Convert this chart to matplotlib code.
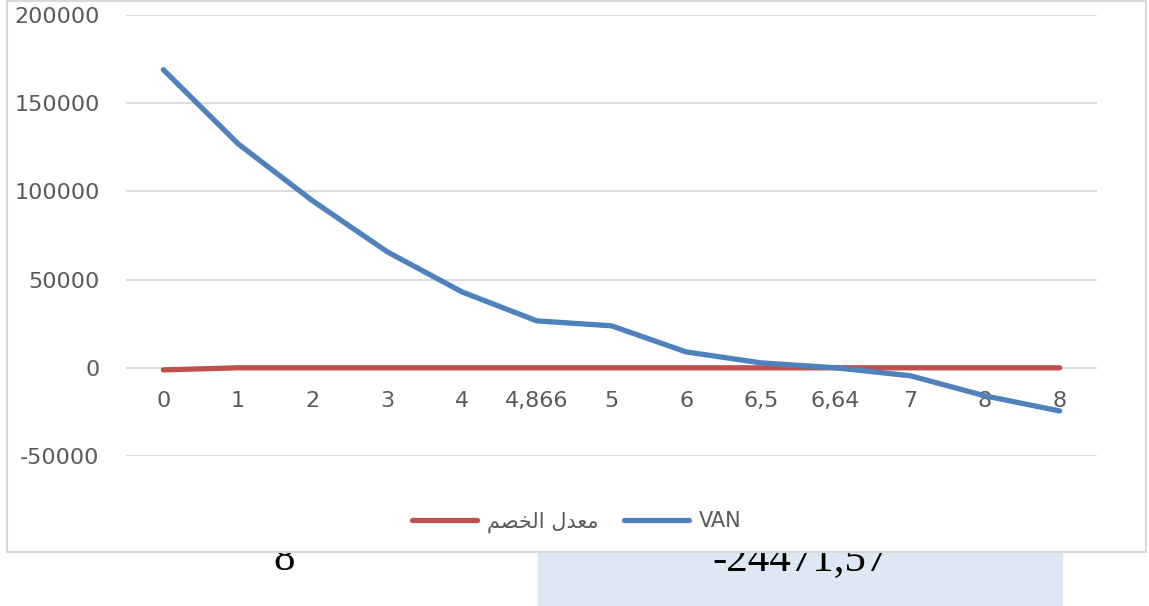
import matplotlib
matplotlib.use('Agg')
import matplotlib.pyplot as plt
from matplotlib.patches import Rectangle
from matplotlib.lines import Line2D

# données
categories = ['0', '1', '2', '3', '4', '4,866', '5', '6', '6,5', '6,64', '7', '8', '8']
van = [169000, 127000, 94600, 65700, 43000, 26600, 23800, 9000, 2800, 0, -4500, -15900, -24471.57]
taux = [-1200, 0, 0, 0, 0, 0, 0, 0, 0, 0, 0, 0, 0]
y_ticks = [-50000, 0, 50000, 100000, 150000, 200000]

# "معدل الخصم" en formes de présentation arabes (matplotlib ne fait pas le shaping)
label_taux = '\ufee2\ufebc\ufea8\ufedf\ufe8d \ufedd\ufeaa\ufecc\ufee3'
label_van = 'VAN'

W, H = 1149, 606
fig = plt.figure(figsize=(W / 100, H / 100), dpi=100)
fig.patch.set_facecolor('white')

def fx(x):
    return x / W

def fy(y):
    return 1 - y / H

# cellule du tableau en dessous du graphique
fig.patches.append(Rectangle((fx(538), 0), fx(1063) - fx(538), fy(552), transform=fig.transFigure,
                             facecolor='#dde8f4', edgecolor='none', zorder=-3))
fig.lines.append(Line2D([fx(538), fx(538)], [0, fy(552)], transform=fig.transFigure,
                        color='#9dc3e6', lw=1, zorder=-3))
fig.text(fx(284), fy(570), '8', fontsize=31, family='Liberation Serif', ha='center',
         va='baseline', color='black', zorder=-2)
fig.text(fx(800), fy(570), '-24471,57', fontsize=31, family='Liberation Serif', ha='center',
         va='baseline', color='black', zorder=-2)

# cadre du graphique
fig.patches.append(Rectangle((fx(7), fy(552)), fx(1146) - fx(7), fy(1) - fy(552),
                             transform=fig.transFigure, facecolor='white', edgecolor='#d9d9d9',
                             lw=1.5, zorder=-1))

ax = fig.add_axes([fx(126), fy(456), fx(1097) - fx(126), fy(15) - fy(456)])
ax.patch.set_alpha(0)

x = list(range(len(categories)))
ax.plot(x, taux, color='#c0504d', lw=3.8, solid_capstyle='round', label=label_taux, zorder=3)
ax.plot(x, van, color='#4f81bd', lw=3.8, solid_capstyle='round', label=label_van, zorder=4)

ax.set_xlim(-0.5, len(categories) - 0.5)
ax.set_ylim(-50000, 200000)
ax.set_yticks(y_ticks)
ax.set_yticklabels([str(v) for v in y_ticks])
ax.set_xticks(x)
ax.set_xticklabels(categories)
ax.grid(axis='y', color='#d9d9d9', lw=1.3)
ax.set_axisbelow(True)
for s in ax.spines.values():
    s.set_visible(False)
ax.spines['bottom'].set_position(('data', 0))
ax.tick_params(axis='both', length=0, labelsize=16, labelcolor='#595959')
ax.tick_params(axis='x', pad=17)
ax.tick_params(axis='y', pad=19)

fig.legend(loc='center', bbox_to_anchor=(fx(577), fy(522)), ncol=2, frameon=False,
           prop={'family': 'DejaVu Sans', 'size': 15}, labelcolor='#595959',
           handlelength=3.1, handletextpad=0.5, columnspacing=1.2)

plt.savefig('out.png', dpi=100)
